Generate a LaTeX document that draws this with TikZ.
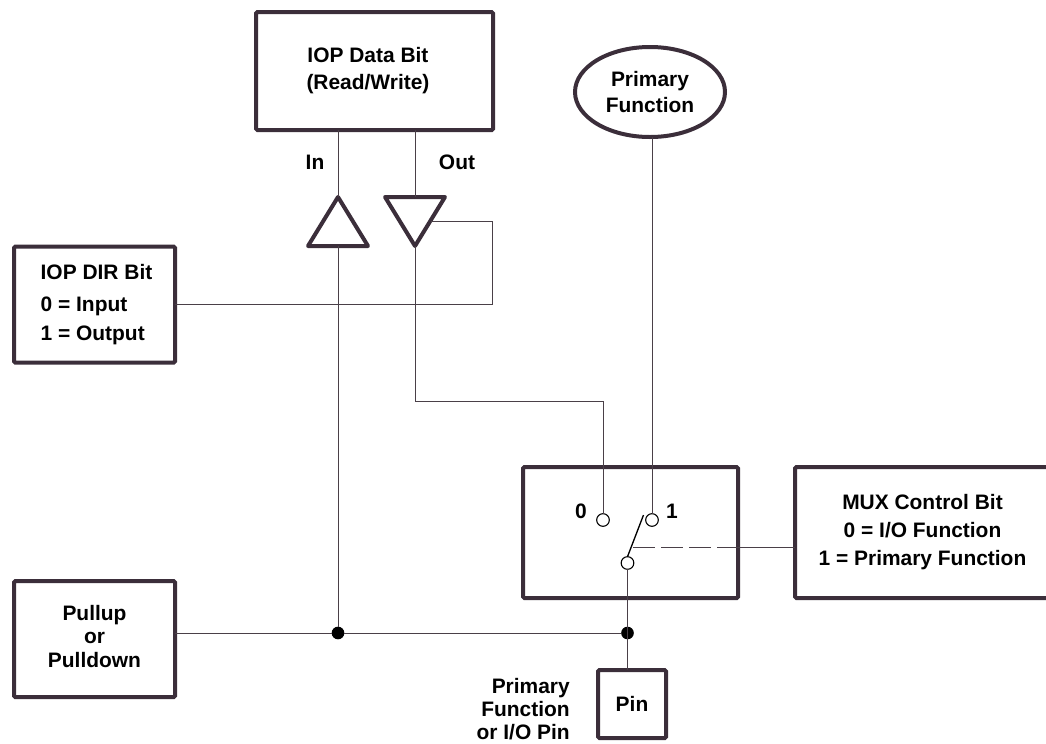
\documentclass[tikz,border=0pt]{standalone}
\usepackage{fontspec}
\setmainfont{Liberation Sans}
\usetikzlibrary{shapes.geometric}
\definecolor{iopink}{HTML}{3B2E3A}
\definecolor{iopwire}{HTML}{4A4048}
\tikzset{
  txt/.style={font=\fontsize{15.7pt}{18pt}\selectfont\bfseries, text=black, align=center, inner sep=0pt},
  boxsize/.style 2 args={minimum width=#1*0.75pt, minimum height=#2*0.75pt},
  box/.style={txt, draw=iopink, line width=3pt, rounded corners=1pt, outer sep=0pt},
  oval/.style={box, ellipse},
  buffer/.style={draw=iopink, line width=3pt, line join=round, isosceles triangle,
    isosceles triangle stretches, inner sep=0pt, outer sep=0pt,
    minimum width=45pt, minimum height=36.75pt},
  wire/.style={draw=iopwire, line width=0.75pt},
  contact/.style={circle, draw=black, line width=0.8pt, fill=white, minimum size=9.5pt,
    inner sep=0pt, outer sep=0pt},
  junction/.style={circle, fill=black, minimum size=9.5pt, inner sep=0pt, outer sep=0pt},
}
\begin{document}
\begin{tikzpicture}[x=0.75pt, y=-0.75pt]
\useasboundingbox (0,0) rectangle (1046,743);

% ---- boxes -----------------------------------------------------------
\node[box, boxsize={237}{118}] (databox) at (374.5,71)
  {IOP Data Bit\hspace*{9.8pt}\\[2.25pt](Read/Write)\hspace*{9.8pt}};
\node[oval, boxsize={150}{90}] (primary) at (650,92) {Primary\\[1.5pt]Function};
\node[box, boxsize={161}{116}, align=left] (dirbox) at (94.5,304.5)
  {\hspace*{3pt}IOP DIR Bit\\[6.5pt]\hspace*{3pt}0 = Input\\[3.75pt]\hspace*{3pt}1 = Output};
\node[box, boxsize={161}{116}, text depth=4.5pt] (pullbox) at (94.5,639)
  {Pullup\\[-0.4pt]or\\[-0.4pt]Pulldown};
\node[box, boxsize={215}{131}] (muxbox) at (630.5,532.5) {};
\node[box, boxsize={255}{131}] (muxctl) at (922.5,532.5)
  {MUX Control Bit\\[3pt]0 = I/O Function\\[3pt]1 = Primary Function};
\node[box, boxsize={68}{68}] (pinbox) at (632,704) {Pin};

% ---- buffers ---------------------------------------------------------
\node[buffer, shape border rotate=90, anchor=apex] (intri) at (338,197) {};
\node[buffer, shape border rotate=270, anchor=apex] (outtri) at (415,246) {};

% ---- switch ----------------------------------------------------------
\node[contact] (contactzero) at (603,520) {};
\node[contact] (contactone) at (652,520) {};
\node[contact] (contactout) at (627.5,563) {};
\coordinate (swtip) at (643.5,515);
\coordinate (swmid) at (633,547);
\coordinate (swdash) at (717,547);
\node[junction] (injunct) at (338,633) {};
\node[junction] (pinjunct) at (627.5,633) {};
\coordinate (outbend) at (603,401);
\coordinate (loopcorner) at (492,304.5);
\coordinate (looptop) at (492,221);
\coordinate (loopend) at (431,221);

% ---- labels ----------------------------------------------------------
\node[txt] (inlabel) at (315,162) {In};
\node[txt] (outlabel) at (457,162) {Out};
\node[txt] (zerolabel) at (581,511) {0};
\node[txt] (onelabel) at (672,511) {1};
\node[txt, align=right, anchor=east] (pinlabel) at (570,709)
  {Primary\\[-1pt]Function\\[-1pt]or I/O Pin};

% ---- wires -----------------------------------------------------------
\draw[wire] (intri.apex |- databox.south) -- (intri.apex);
\draw[wire] (outtri.lower side |- databox.south) -- (outtri.lower side);
\draw[wire] (intri.lower side) -- (injunct);
\draw[wire] (outtri.apex) |- (outbend) -- (contactzero.north);
\draw[wire] (dirbox.east) -- (loopcorner) -- (looptop) -- (loopend);
\draw[wire] (contactone |- primary.south) -- (contactone.north);
\draw[wire] (pullbox.east |- injunct) -- (injunct) -- (pinjunct);
\draw[wire] (contactout.south) -- (contactout |- pinbox.north);
\draw[wire, line width=1pt, draw=black] (contactout.north) -- (swtip);
\draw[wire, dash pattern=on 16.5pt off 4.5pt] (swmid) -- (swdash);
\draw[wire] (swdash) -- (swdash -| muxctl.west);

\end{tikzpicture}
\end{document}
